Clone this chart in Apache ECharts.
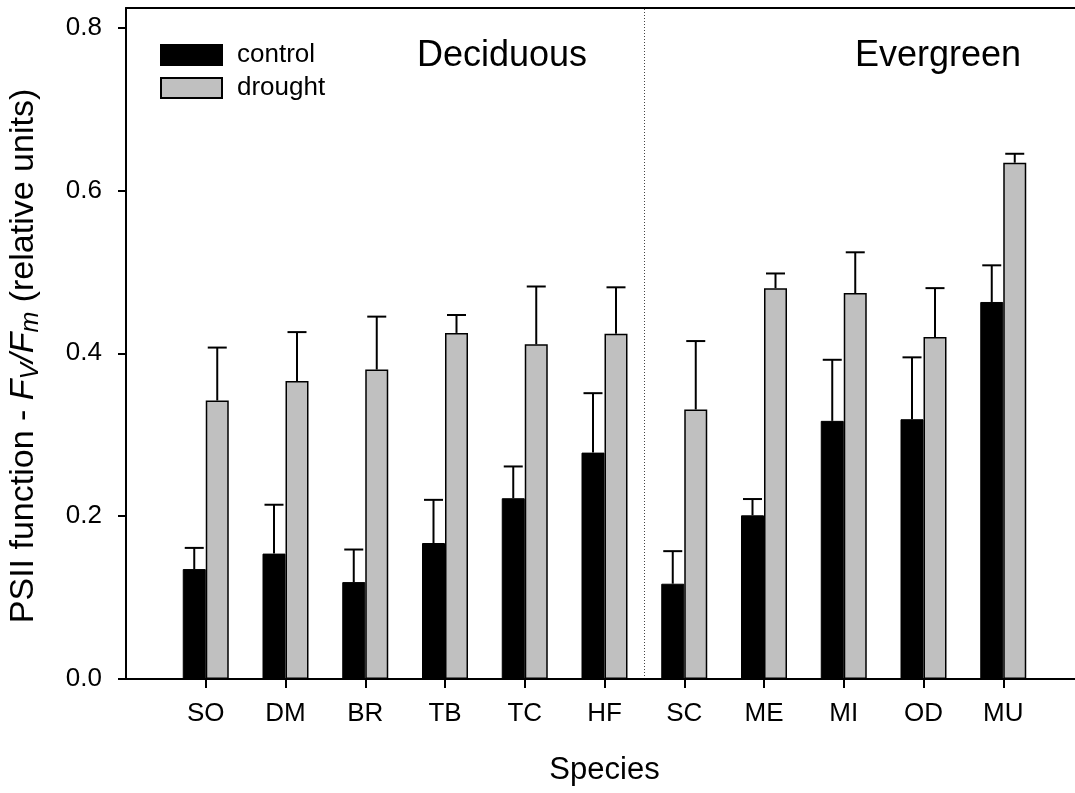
<!DOCTYPE html>
<html>
<head>
<meta charset="utf-8">
<script src="https://cdn.jsdelivr.net/npm/echarts@6/dist/echarts.min.js"></script>
<style>
  html, body { margin: 0; padding: 0; background: #fff; }
  #chart { width: 1075px; height: 793px; }
</style>
</head>
<body>
<div id="chart"></div>
<script>
// Fv/Fm per species, mean with upper standard error
const species = ['SO', 'DM', 'BR', 'TB', 'TC', 'HF', 'SC', 'ME', 'MI', 'OD', 'MU'];
const controlMean = [0.135, 0.154, 0.119, 0.167, 0.222, 0.278, 0.117, 0.201, 0.317, 0.319, 0.463];
const controlErr  = [0.026, 0.060, 0.040, 0.053, 0.039, 0.073, 0.040, 0.020, 0.075, 0.076, 0.045];
const droughtMean = [0.342, 0.366, 0.380, 0.425, 0.411, 0.424, 0.331, 0.480, 0.474, 0.420, 0.634];
const droughtErr  = [0.065, 0.060, 0.065, 0.022, 0.071, 0.057, 0.084, 0.018, 0.050, 0.060, 0.011];
const yTicks = [0, 0.2, 0.4, 0.6, 0.8];
// last deciduous / first evergreen species: the divider sits between them
const lastDeciduous = 'HF';
const firstEvergreen = 'SC';

const FONT = '"Liberation Sans", Arial, Helvetica, sans-serif';
const BAR_W = 23;

// one empty slot on each side of the species
const axisCats = [''].concat(species, ['']);
const pad = arr => [null].concat(arr, [null]);

function errorSeries(name, means, errs, offset) {
  return {
    name: name + '-err',
    type: 'custom',
    z: 5,
    silent: true,
    data: means.map((m, i) => [i + 1, m, errs[i]]),
    renderItem: function (params, api) {
      const idx = api.value(0), m = api.value(1), e = api.value(2);
      const base = api.coord([idx, m]);
      const top = api.coord([idx, m + e]);
      const x = base[0] + offset;
      const style = { stroke: '#000', lineWidth: 2 };
      return {
        type: 'group',
        children: [
          { type: 'line', shape: { x1: x, y1: base[1], x2: x, y2: top[1] }, style: style },
          { type: 'line', shape: { x1: x - 9.5, y1: top[1], x2: x + 9.5, y2: top[1] }, style: style }
        ]
      };
    }
  };
}

const chart = echarts.init(document.getElementById('chart'), null, { renderer: 'canvas' });

chart.setOption({
  animation: false,
  backgroundColor: '#fff',
  textStyle: { fontFamily: FONT },
  // the frame runs a little past the right edge of the page
  grid: { left: 126, top: 8, width: 957, bottom: 114, containLabel: false, outerBoundsMode: 'none' },
  legend: {
    left: 160,
    top: 42,
    padding: 0,
    orient: 'vertical',
    icon: 'rect',
    itemWidth: 61,
    itemHeight: 20,
    itemGap: 7,
    data: ['control', 'drought'],
    textStyle: { fontFamily: FONT, fontSize: 26, color: '#000', padding: [0, 0, 0, 10] }
  },
  xAxis: [
    {
      type: 'category',
      data: axisCats,
      boundaryGap: false,
      axisLine: { lineStyle: { color: '#000', width: 2 } },
      axisTick: {
        length: 9,
        lineStyle: { color: '#000', width: 2 },
        interval: (i, v) => v !== ''
      },
      axisLabel: { color: '#000', fontSize: 26, fontFamily: FONT, margin: 22, interval: 0 },
      splitLine: { show: false },
      name: 'Species',
      nameLocation: 'middle',
      nameGap: 76,
      nameTextStyle: { color: '#000', fontSize: 31, fontFamily: FONT }
    },
    {
      type: 'category',
      data: axisCats,
      boundaryGap: false,
      position: 'top',
      axisLine: { lineStyle: { color: '#000', width: 2 } },
      axisTick: { show: false },
      axisLabel: { show: false },
      splitLine: { show: false }
    }
  ],
  yAxis: {
    type: 'value',
    min: 0,
    max: 0.824,
    interval: 0.2,
    axisLine: { show: true, lineStyle: { color: '#000', width: 2 } },
    axisTick: { show: true, length: 8, lineStyle: { color: '#000', width: 2 }, customValues: yTicks },
    axisLabel: {
      color: '#000', fontSize: 26, fontFamily: FONT, margin: 24,
      customValues: yTicks,
      formatter: v => v.toFixed(1)
    },
    splitLine: { show: false }
  },
  graphic: [
    { type: 'text', left: 417, top: 38, style: { text: 'Deciduous', fontSize: 36, fontFamily: FONT, fill: '#000' } },
    { type: 'text', left: 855, top: 38, style: { text: 'Evergreen', fontSize: 36, fontFamily: FONT, fill: '#000' } },
    {
      type: 'text',
      x: 24,
      y: 356,
      rotation: Math.PI / 2,
      style: {
        text: 'PSII function - {i|F}{sub|V}{i|/F}{sub|m} (relative units)',
        fontSize: 34,
        fontFamily: FONT,
        fill: '#000',
        align: 'center',
        verticalAlign: 'middle',
        rich: {
          i: { fontSize: 34, fontStyle: 'italic', fontFamily: FONT, fill: '#000' },
          sub: { fontSize: 25, fontStyle: 'italic', fontFamily: FONT, fill: '#000', padding: [14, 0, 0, 0] }
        }
      }
    }
  ],
  series: [
    {
      name: 'control',
      type: 'bar',
      barWidth: BAR_W,
      barGap: '0%',
      data: pad(controlMean),
      itemStyle: { color: '#000', borderColor: '#000', borderWidth: 1 }
    },
    {
      name: 'drought',
      type: 'bar',
      barWidth: BAR_W,
      barGap: '0%',
      data: pad(droughtMean),
      itemStyle: { color: '#c0c0c0', borderColor: '#000', borderWidth: 1.5 }
    },
    errorSeries('control', controlMean, controlErr, -BAR_W / 2),
    errorSeries('drought', droughtMean, droughtErr, BAR_W / 2),
    {
      name: 'divider',
      type: 'custom',
      silent: true,
      z: 1,
      data: [[axisCats.indexOf(lastDeciduous), axisCats.indexOf(firstEvergreen)]],
      renderItem: function (params, api) {
        const a = api.coord([api.value(0), 0]);
        const b = api.coord([api.value(1), 0]);
        const x = Math.round((a[0] + b[0]) / 2) + 0.5;
        const cs = params.coordSys;
        return {
          type: 'line',
          shape: { x1: x, y1: cs.y + 1, x2: x, y2: cs.y + cs.height - 1 },
          style: { stroke: '#444', lineWidth: 1, lineDash: [1, 2] }
        };
      }
    }
  ]
});
</script>
</body>
</html>
